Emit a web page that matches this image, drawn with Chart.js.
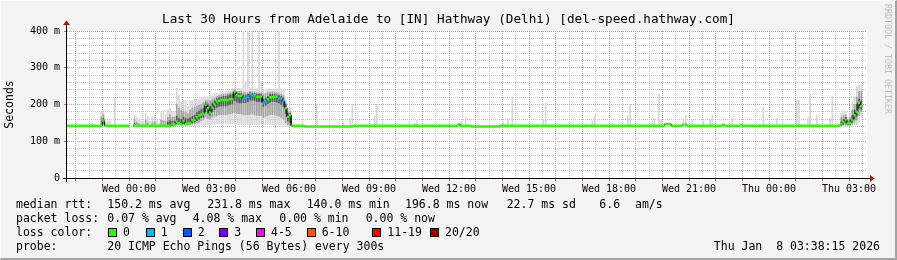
<!DOCTYPE html>
<html><head><meta charset="utf-8">
<script src="https://cdn.jsdelivr.net/npm/chart.js@4.4.1/dist/chart.umd.min.js"></script>
<style>
html,body{margin:0;padding:0;background:#f3f3f3;overflow:hidden;}
#wrap{position:relative;width:897px;height:260px;background:#f3f3f3;font-family:'DejaVu Sans Mono',monospace;color:#000;}
#c{position:absolute;left:0;top:0;width:897px;height:260px;}
.t{position:absolute;white-space:pre;font-size:11.5px;line-height:14px;}
.box{position:absolute;width:7px;height:7px;border:1px solid #000;}
#frame{position:absolute;left:0;top:0;width:897px;height:260px;box-sizing:border-box;border-top:1px solid #fbfbfb;border-left:1px solid #fbfbfb;border-right:2px solid #a3a3a3;border-bottom:2px solid #a3a3a3;pointer-events:none;}
#title{position:absolute;left:0;width:897px;top:11px;text-align:center;font-size:12.7px;line-height:16px;white-space:pre;}
#wm{position:absolute;left:883px;top:4px;writing-mode:vertical-rl;font-size:8.3px;color:#bdbdbd;white-space:pre;line-height:9px;}
</style></head><body>
<div id="wrap">
<canvas id="c" width="897" height="260"></canvas>
<div id="title">Last 30 Hours from Adelaide to [IN] Hathway (Delhi) [del-speed.hathway.com]</div>
<div id="wm">RRDTOOL / TOBI OETIKER</div>
<div id="legend"></div>
<div id="frame"></div>
</div>
<script>
// ---- time axis (minutes relative to Wed 00:00) ----
const xMin = -139.5, xMax = 1660.5;
const xTickMinutes = [0,180,360,540,720,900,1080,1260,1440,1620];
const xTickLabels = ['Wed 00:00','Wed 03:00','Wed 06:00','Wed 09:00','Wed 12:00','Wed 15:00','Wed 18:00','Wed 21:00','Thu 00:00','Thu 03:00'];
const yTickVals = [0,100,200,300,400];
const yTickLabels = ['0','100 m','200 m','300 m','400 m'];

// ---- median rtt (ms): value holds from medT[i] to medT[i+1]; loss = lost pings ----
const medT    = [-140,-60,-55,0,10,20,95,105,110,115,120,125,130,140,145,150,155,160,165,170,175,180,185,190,195,200,205,225,230,235,240,245,255,260,265,270,275,280,285,295,300,305,310,315,325,335,345,350,355,360,365,395,505,740,745,770,835,1205,1220,1245,1255,1335,1340,1375,1380,1600,1605,1610,1615,1620,1625,1630,1635,1640,1645,1650];
const medV    = [142,156,142,null,143,142,146,153,150,147,155,147,150,157,158,165,170,173,175,199,190,178,192,200,208,210,212,214,215,234,226,223,216,218,221,228,226,225,221,222,205,208,214,220,221,216,210,190,167,171,142,140,142,146,142,140,142,147,142,145,142,145,142,144,142,146,152,158,149,150,158,171,180,205,196,null];
const medLoss = [0,0,0,0,0,0,0,0,0,0,0,0,0,0,0,0,0,0,0,0,0,0,0,0,0,0,0,0,0,0,0,0,1,1,1,1,1,0,0,0,1,1,0,0,0,1,1,0,0,0,0,0,0,0,0,0,0,0,0,0,0,0,0,0,0,0,0,0,0,0,0,0,0,0,0,0];

// ---- smoke (ms) for 5-minute slots starting at smokeT ----
const smokeT  = [-65,-60,-55,-50,-45,10,15,20,25,30,35,40,45,50,55,60,65,70,75,80,85,90,95,100,105,110,115,120,125,130,135,140,145,150,155,160,165,170,175,180,185,190,195,200,205,210,215,220,225,230,235,240,245,250,255,260,265,270,275,280,285,290,295,300,305,310,315,320,325,330,335,340,345,350,355,360,1600,1605,1610,1615,1620,1625,1630,1635,1640,1645];
const outerLo = [140,142,140,140,140,140,140,140,140,140,140,140,140,140,140,140,140,140,140,140,140,140,140,141,141,141,141,141,141,141,141,142,142,143,143,144,144,145,145,145,146,146,147,147,147,147,147,147,147,147,147,146,146,146,145,145,145,145,145,145,145,145,145,145,145,145,145,145,145,145,145,145,144,143,142,141,140,140,141,141,141,142,143,145,150,165];
const outerHi = [180,185,152,155,155,171,165,160,154,154,176,167,154,167,170,160,150,178,178,172,185,190,182,180,244,225,208,211,211,193,211,211,214,214,214,217,217,221,221,226,226,230,230,230,232,234,236,238,239,242,244,244,244,244,410,262,410,243,410,243,243,410,262,242,242,242,242,242,242,242,410,242,240,212,190,190,176,183,183,165,176,208,221,249,253,253];
const midLo   = [141,145,null,null,null,141,141,141,null,null,141,141,null,141,141,null,null,141,141,141,142,142,142,143,145,145,145,146,145,146,146,147,148,150,152,155,158,165,162,160,165,168,170,172,172,172,172,174,175,176,178,176,175,175,172,172,172,174,174,172,170,170,170,165,168,170,172,172,172,170,168,165,160,150,145,143,142,143,145,143,144,148,152,158,170,180];
const midHi   = [165,172,null,null,null,158,152,148,null,null,158,150,null,150,152,null,null,158,156,154,165,172,165,166,200,190,184,182,180,175,185,190,192,195,198,200,205,212,210,210,215,218,222,224,226,228,228,230,232,234,238,236,236,236,234,232,232,236,234,234,232,232,232,228,230,232,234,234,234,232,230,228,225,205,180,180,165,170,172,158,165,185,200,220,235,235];
const coreLo  = [null,150,null,null,null,142,null,null,null,null,null,null,null,null,null,null,null,null,null,null,143,144,143,144,148,147,146,149,146,147,147,150,152,156,160,164,166,180,176,170,180,186,192,195,196,196,196,198,200,202,210,206,204,204,205,205,208,212,212,210,208,208,208,195,198,202,206,208,208,206,204,200,195,175,155,150,143,146,150,145,146,152,160,168,190,188];
const coreHi  = [null,162,null,null,null,148,null,null,null,null,null,null,null,null,null,null,null,null,null,null,152,156,154,155,168,162,160,166,162,160,164,168,170,178,182,186,190,205,200,196,204,210,216,218,220,222,222,224,226,228,237,232,230,230,226,226,228,232,230,230,228,228,228,215,218,222,228,228,228,226,224,222,218,200,175,176,152,160,165,152,158,170,185,200,215,210];

// ---- isolated single-slot spikes (max ping, ms) above the baseline ----
const spikeBase = 141;
const spikeT  = [-85,-35,420,480,495,500,550,555,640,645,745,755,840,850,860,930,935,1040,1045,1085,1120,1125,1175,1180,1190,1195,1245,1250,1265,1290,1305,1310,1355,1425,1455,1500,1505,1525,1530,1545,1575,1580];
const spikeHi = [150,217,201,150,162,201,167,201,149,156,154,164,150,162,220,160,205,156,167,150,169,201,155,162,229,160,161,171,158,155,160,171,163,192,161,212,212,164,226,171,161,223];

// ---- legend ----
const lossColors = ['#26ff00','#00b8ff','#0059ff','#7e00ff','#ff00ff','#ff5500','#ff0000','#a10000'];
const lossLabels = ['0','1','2','3','4-5','6-10','11-19','20/20'];
const rttStats  = ['150.2 ms avg','231.8 ms max','140.0 ms min','196.8 ms now','22.7 ms sd','6.6','am/s'];
const lossStats = ['0.07 % avg','4.08 % max','0.00 % min','0.00 % now'];
const probeText = '20 ICMP Echo Pings (56 Bytes) every 300s';
const dateText  = 'Thu Jan  8 03:38:15 2026';

const FONT = "'DejaVu Sans Mono', monospace";

// legend layout
(function(){
  const L = document.getElementById('legend');
  function txt(s, x, cy, right){
    const d = document.createElement('div'); d.className='t'; d.textContent = s;
    d.style.top = (cy-7)+'px';
    if (right) { d.style.right = (897-x)+'px'; } else d.style.left = x+'px';
    L.appendChild(d);
  }
  const rttX = [107.3,207.3,306.7,405,506.7,599.3,635];
  txt('median rtt:',16,204); rttStats.forEach((s,i)=>txt(s,rttX[i],204));
  const lossX = [107.3,192.7,279.3,365.7];
  txt('packet loss:',16,218); lossStats.forEach((s,i)=>txt(s,lossX[i],218));
  const boxX = [108,145.7,182.7,219.3,256,306.7,372.3,430];
  txt('loss color:',16,232);
  lossLabels.forEach((s,i)=>{
    const b=document.createElement('div'); b.className='box';
    b.style.left=boxX[i]+'px'; b.style.top='228px'; b.style.background=lossColors[i];
    L.appendChild(b); txt(s,boxX[i]+15,232);
  });
  txt('probe:',16,246); txt(probeText,107.3,246); txt(dateText,880,246,true);
})();

// ---- datasets ----
const outerData=[], midData=[], coreData=[], spikeData=[];
smokeT.forEach((t,i)=>{
  outerData.push({x:t+2.5, y:[outerLo[i],outerHi[i]]});
  if (midLo[i]!==null) midData.push({x:t+2.5, y:[midLo[i],midHi[i]]});
  if (coreLo[i]!==null) coreData.push({x:t+2.5, y:[coreLo[i],coreHi[i]]});
});
spikeT.forEach((t,i)=>spikeData.push({x:t+2.5, y:[spikeBase,spikeHi[i]]}));

const blackPts=[], colored={};
for (let i=0;i<medT.length-1;i++){
  const v=medV[i];
  if (v===null){ blackPts.push({x:medT[i],y:null}); continue; }
  blackPts.push({x:medT[i],y:v},{x:medT[i+1],y:v});
  const lc=medLoss[i];
  (colored[lc] = colored[lc] || []).push({x:medT[i],y:v},{x:medT[i+1],y:v},{x:medT[i+1],y:null});
}

const barCommon = {type:'bar', grouped:false, barThickness:1, barPercentage:1, categoryPercentage:1, borderWidth:0, xAxisID:'x', yAxisID:'y'};
const datasets = [
  Object.assign({data:spikeData, backgroundColor:'#d6d6d6', order:6}, barCommon),
  Object.assign({data:outerData, backgroundColor:'#d6d6d6', order:5}, barCommon),
  Object.assign({data:midData, backgroundColor:'#a2a2a2', order:4}, barCommon),
  Object.assign({data:coreData, backgroundColor:'#555555', order:3}, barCommon),
  {type:'line', data:blackPts, borderColor:'#1a1a1a', borderWidth:1, pointRadius:0, spanGaps:false, tension:0, xAxisID:'x', yAxisID:'y', order:2},
];
Object.keys(colored).forEach(k=>{
  datasets.push({type:'line', data:colored[k], borderColor:lossColors[k], borderWidth:2.5, borderCapStyle:'butt', pointRadius:0, spanGaps:false, tension:0, xAxisID:'x', yAxisID:'y', order:1});
});

const hourMarks=[], halfMarks=[], yMinor=[];
for (let m=-120;m<=1620;m+=60){ hourMarks.push(m); halfMarks.push(m+30); }
for (let v=20; v<400; v+=20) if (v%100) yMinor.push(v);

const bgPlugin = {id:'bg', beforeDraw(chart){ const {ctx,chartArea:a}=chart; ctx.save(); ctx.fillStyle='#fff'; ctx.fillRect(a.left,a.top,a.right-a.left,a.bottom-a.top); ctx.restore(); }};
const axesPlugin = {id:'axes', afterDatasetsDraw(chart){
  const {ctx,chartArea:a}=chart; ctx.save();
  ctx.strokeStyle='#000'; ctx.lineWidth=1; ctx.beginPath();
  ctx.moveTo(a.left-4,a.bottom+0.5); ctx.lineTo(a.right+3,a.bottom+0.5);
  ctx.moveTo(a.left-0.5,a.bottom+4); ctx.lineTo(a.left-0.5,a.top-6);
  ctx.stroke();
  ctx.fillStyle='#a01515';
  ctx.beginPath(); ctx.moveTo(a.right+3,a.bottom+0.5-3.5); ctx.lineTo(a.right+7.5,a.bottom+0.5); ctx.lineTo(a.right+3,a.bottom+0.5+3.5); ctx.closePath(); ctx.fill();
  ctx.beginPath(); ctx.moveTo(a.left-0.5-3.5,a.top-6); ctx.lineTo(a.left-0.5,a.top-10.5); ctx.lineTo(a.left-0.5+3.5,a.top-6); ctx.closePath(); ctx.fill();
  ctx.restore();
}};

const RED='rgb(244,140,140)', GRAY='rgb(196,196,196)';
new Chart(document.getElementById('c'), {
  type:'line',
  data:{datasets},
  options:{
    responsive:false, animation:false, devicePixelRatio:1,
    layout:{padding:{left:0,right:30,top:31,bottom:0}},
    plugins:{legend:{display:false}, tooltip:{enabled:false}, title:{display:false}},
    scales:{
      x2:{type:'linear', position:'bottom', min:xMin, max:xMax, offset:false,
        afterBuildTicks:s=>{ s.ticks = halfMarks.map(v=>({value:v})); },
        afterFit:s=>{ s.height=0; },
        ticks:{display:false}, grid:{color:GRAY, lineWidth:1, drawTicks:false, offset:false},
        border:{display:false, dash:[1,1]}},
      y2:{type:'linear', position:'left', min:0, max:400,
        afterBuildTicks:s=>{ s.ticks = yMinor.map(v=>({value:v})); },
        afterFit:s=>{ s.width=0; },
        ticks:{display:false}, grid:{color:GRAY, lineWidth:1, drawTicks:false},
        border:{display:false, dash:[1,1]}},
      x:{type:'linear', position:'bottom', min:xMin, max:xMax, offset:false,
        afterBuildTicks:s=>{ s.ticks = hourMarks.map(v=>({value:v})); },
        afterFit:s=>{ s.height=82; },
        ticks:{autoSkip:false, maxRotation:0, minRotation:0, padding:2, color:'#000', font:{family:FONT,size:10},
          callback:v=>{ const i=xTickMinutes.indexOf(v); return i>=0 ? xTickLabels[i] : ''; }},
        grid:{color:RED, lineWidth:1, drawTicks:true, tickLength:3, tickColor:'rgb(235,90,90)', tickBorderDash:[], offset:false},
        border:{display:false, dash:[1,1]}},
      y:{type:'linear', position:'left', min:0, max:400,
        afterBuildTicks:s=>{ s.ticks = yTickVals.map(v=>({value:v})); },
        afterFit:s=>{ s.width=67; },
        ticks:{padding:4, color:'#000', font:{family:FONT,size:10},
          callback:v=>{ const i=yTickVals.indexOf(v); return i>=0 ? yTickLabels[i] : ''; }},
        grid:{color:RED, lineWidth:1, drawTicks:true, tickLength:3, tickColor:'rgb(235,90,90)', tickBorderDash:[]},
        border:{display:false, dash:[1,1]},
        title:{display:true, text:'Seconds', color:'#000', font:{family:FONT,size:11.5}, padding:{top:3,bottom:0}}}
    }
  },
  plugins:[bgPlugin, axesPlugin]
});
</script>
</body></html>
